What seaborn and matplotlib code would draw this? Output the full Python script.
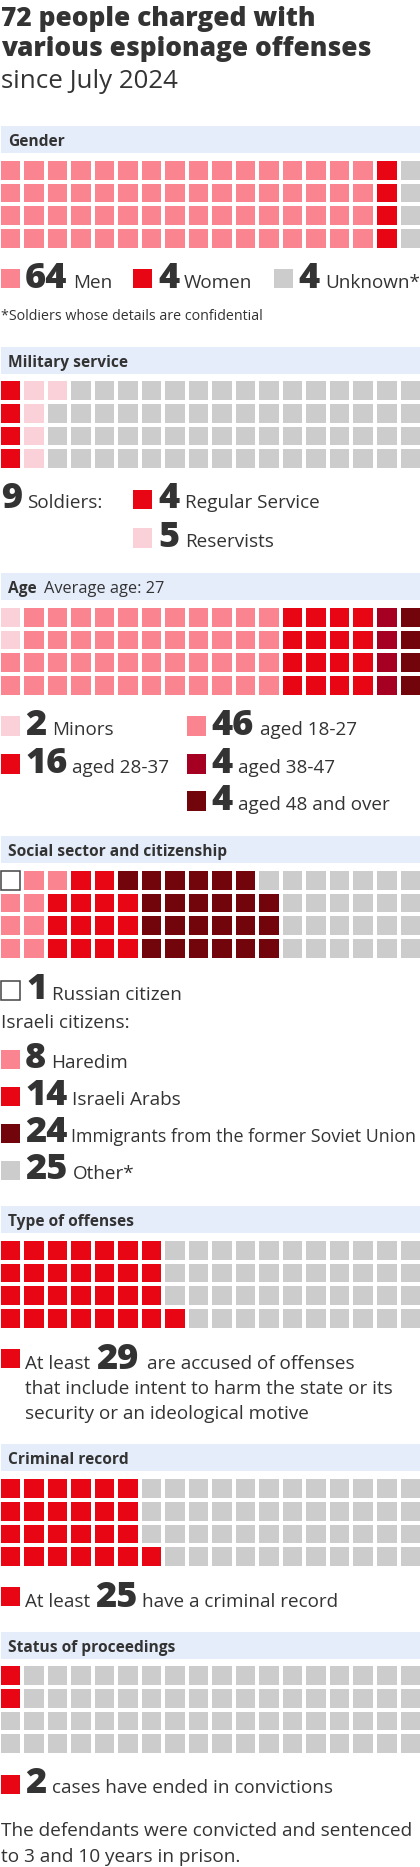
import numpy as np
import matplotlib
matplotlib.use("Agg")
import matplotlib.pyplot as plt
from matplotlib.colors import ListedColormap
from matplotlib.patches import Rectangle
import seaborn as sns

# ---- data ----
PINK, RED, LIGHT, CRIMSON, MAROON, GREY, WHITE = (
    "#FA848F", "#E90614", "#FBD1D9", "#A50021", "#72040C", "#CCCCCC", "#FFFFFF")

gender_counts = [64, 4, 4]
gender_labels = ["Men", "Women", "Unknown*"]
gender_colors = [PINK, RED, GREY]

military_total = 9
military_counts = [4, 5, 63]
military_labels = ["Regular Service", "Reservists"]
military_colors = [RED, LIGHT, GREY]

age_counts = [2, 46, 16, 4, 4]
age_labels = ["Minors", "aged 18-27", "aged 28-37", "aged 38-47", "aged 48 and over"]
age_colors = [LIGHT, PINK, RED, CRIMSON, MAROON]

social_counts = [1, 8, 14, 24, 25]
social_row_counts = [[1, 2, 2, 6, 7],
                     [0, 2, 4, 6, 6],
                     [0, 2, 4, 6, 6],
                     [0, 2, 4, 6, 6]]
social_labels = ["Russian citizen", "Haredim", "Israeli Arabs",
                 "Immigrants from the former Soviet Union", "Other*"]
social_colors = [WHITE, PINK, RED, MAROON, GREY]

offense_counts = [29, 43]
offense_colors = [RED, GREY]
record_counts = [25, 47]
record_colors = [RED, GREY]
status_counts = [2, 70]
status_colors = [RED, GREY]

# ---- page ----
W, H = 420, 1867
DARK = "#333333"
BAND = "#E5ECFA"
FAM = ["Open Sans", "DejaVu Sans"]
sns.set_theme(style="white")
plt.rcParams["font.family"] = FAM

fig = plt.figure(figsize=(W / 100, H / 100), dpi=100, facecolor="white")
page = fig.add_axes([0, 0, 1, 1], zorder=5)
page.set_xlim(0, W)
page.set_ylim(H, 0)
page.axis("off")
page.patch.set_alpha(0)

SZ_NUM, SZ_TXT, SZ_HEAD = 26, 13.6, 11.2


def txt(x, y, s, size=SZ_TXT, weight="normal", **kw):
    return page.text(x, y, s, fontsize=size, fontweight=weight, color=kw.pop("color", DARK),
                     va="baseline", ha="left", **kw)


def num(x, y, n):
    return txt(x, y, str(n), size=SZ_NUM, weight="heavy")


def swatch(x, y, c, edge=None):
    if edge:
        page.add_patch(Rectangle((x + .5, y + .5), 18.5, 18.5, fc=c, ec=edge, lw=1.1))
    else:
        page.add_patch(Rectangle((x, y), 19.3, 19.3, fc=c, ec="none"))


def band(top):
    page.add_patch(Rectangle((0.7, top), W, 27, fc=BAND, ec="none", zorder=0))


def waffle(top, counts=None, colors=None, from_bottom=False, row_counts=None):
    """18 columns x 4 rows, filled column by column, or row by row from row_counts."""
    if row_counts is not None:
        codes = np.array([np.repeat(np.arange(len(r)), r) for r in row_counts])
    else:
        codes = np.repeat(np.arange(len(counts)), counts).reshape(4, 18, order="F")
    if from_bottom:
        codes = codes[::-1, :]
    px, py = 23.53, 22.67
    gap = 4.0
    left = 0.7 + 19.2 / 2 - px / 2
    ytop = top + 19.0 / 2 - py / 2
    ax = fig.add_axes([left / W, 1 - (ytop + 4 * py) / H, 18 * px / W, 4 * py / H])
    sns.heatmap(codes, ax=ax, cmap=ListedColormap(colors), vmin=-.5, vmax=len(colors) - .5,
                cbar=False, linewidths=gap * .72, linecolor="white",
                xticklabels=False, yticklabels=False, square=False)
    return ax


# ---- title ----
txt(1, 25.5, "72 people charged with", size=18.95, weight="heavy")
txt(1, 55.7, "various espionage offenses", size=18.95, weight="heavy")
txt(1, 87.5, "since July 2024", size=18.6)

# ---- Gender ----
band(126)
txt(8, 145.7, "Gender", size=SZ_HEAD, weight="bold")
waffle(160.7, gender_counts, gender_colors)
swatch(0.7, 269, gender_colors[0]); num(25, 288, gender_counts[0]); txt(73.3, 288, gender_labels[0])
swatch(133, 269, gender_colors[1]); num(158, 288, gender_counts[1]); txt(184, 288, gender_labels[1])
swatch(274, 269, gender_colors[2]); num(298, 288, gender_counts[2]); txt(325, 288, gender_labels[2])
txt(1, 320, "*Soldiers whose details are confidential", size=10.3)

# ---- Military ----
band(347)
txt(8, 367, "Military service", size=SZ_HEAD, weight="bold")
waffle(381.3, military_counts, military_colors)
num(1, 508.3, military_total); txt(27.3, 508.3, "Soldiers:")
swatch(133, 490, military_colors[0]); num(158, 508.3, military_counts[0]); txt(185, 508.3, military_labels[0])
swatch(133, 528.3, military_colors[1]); num(158, 547, military_counts[1]); txt(185, 547, military_labels[1])

# ---- Age ----
band(573.3)
txt(8, 593, "Age", size=SZ_HEAD, weight="bold")
txt(44.3, 593, "Average age: 27", size=11.8)
waffle(607.7, age_counts, age_colors)
swatch(0.7, 716.3, age_colors[0]); num(25, 734.7, age_counts[0]); txt(52.3, 734.7, age_labels[0])
swatch(187, 716.3, age_colors[1]); num(211.7, 734.7, age_counts[1]); txt(259.7, 734.7, age_labels[1])
swatch(0.7, 754.3, age_colors[2]); num(25, 773, age_counts[2]); txt(72, 773, age_labels[2])
swatch(187, 754.3, age_colors[3]); num(211.7, 773, age_counts[3]); txt(238.3, 773, age_labels[3])
swatch(187, 791.3, age_colors[4]); num(211.7, 810, age_counts[4]); txt(238.3, 810, age_labels[4])

# ---- Social ----
band(836)
txt(8, 856, "Social sector and citizenship", size=SZ_HEAD, weight="bold")
soc_ax = waffle(870.7, colors=social_colors, row_counts=social_row_counts)
soc_ax.add_patch(Rectangle((0.085, 0.085), 0.83, 0.83, fc="white", ec="#444444", lw=1.1, zorder=5))
swatch(0.7, 981, WHITE, edge="#444444"); num(26, 999.3, social_counts[0]); txt(52.3, 1000, social_labels[0])
txt(1, 1028, "Israeli citizens:")
swatch(0.7, 1049.7, social_colors[1]); num(25, 1068, social_counts[1]); txt(51, 1068, social_labels[1])
swatch(0.7, 1086.7, social_colors[2]); num(25, 1105.3, social_counts[2]); txt(72, 1105.3, social_labels[2])
swatch(0.7, 1123.7, social_colors[3]); num(25, 1142.3, social_counts[3]); txt(71, 1142.3, social_labels[3], size=12.85)
swatch(0.7, 1160.7, social_colors[4]); num(25, 1179.3, social_counts[4]); txt(73, 1179.3, social_labels[4])

# ---- Offenses ----
band(1206)
txt(8, 1226, "Type of offenses", size=SZ_HEAD, weight="bold")
waffle(1240.8, offense_counts, offense_colors, from_bottom=True)
swatch(0.7, 1349, offense_colors[0])
txt(25, 1369, "At least"); num(95.7, 1369, offense_counts[0]); txt(147, 1369, "are accused of offenses")
txt(25, 1394, "that include intent to harm the state or its")
txt(25, 1419, "security or an ideological motive")

# ---- Record ----
band(1444)
txt(8, 1464, "Criminal record", size=SZ_HEAD, weight="bold")
waffle(1479, record_counts, record_colors, from_bottom=True)
swatch(0.7, 1587, record_colors[0])
txt(25, 1606.7, "At least"); num(95, 1606.7, record_counts[0]); txt(142.3, 1606.7, "have a criminal record")

# ---- Status ----
band(1632)
txt(8, 1652, "Status of proceedings", size=SZ_HEAD, weight="bold")
waffle(1666, status_counts, status_colors)
swatch(0.7, 1775, status_colors[0])
num(25, 1793, status_counts[0]); txt(51.7, 1793, "cases have ended in convictions")
txt(1, 1836, "The defendants were convicted and sentenced", size=13.7)
txt(1, 1861.5, "to 3 and 10 years in prison.", size=13.7)

fig.savefig("out.png", dpi=100, facecolor="white")
